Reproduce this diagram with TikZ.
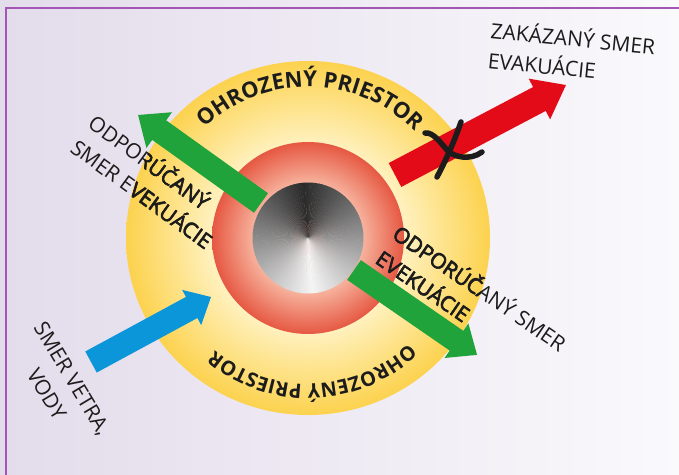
\documentclass[tikz,border=0pt]{standalone}
\usepackage{fontspec}
\setmainfont{Open Sans}
\newfontfamily\lblfont{Open Sans}
\newfontfamily\lblbold{Open Sans}[FakeBold=2.2]
\usetikzlibrary{decorations.text}
\definecolor{bgL}{HTML}{E3DCEB}
\definecolor{bgR}{HTML}{FAF9FC}
\definecolor{framec}{HTML}{A456B4}
\definecolor{yedge}{HTML}{FCD24E}
\definecolor{ycream}{HTML}{FFF2C2}
\definecolor{rout}{HTML}{E65842}
\definecolor{rin}{HTML}{F7B5A0}
\definecolor{agreen}{HTML}{21A33B}
\definecolor{ared}{HTML}{E30B17}
\definecolor{ablue}{HTML}{0A96D8}
\definecolor{ink}{HTML}{1C1C1C}
\pgfdeclareradialshading{yring}{\pgfpoint{0bp}{0bp}}{color(0bp)=(ycream); color(13bp)=(ycream); color(25bp)=(yedge); color(50bp)=(yedge)}
\pgfdeclareradialshading{rring}{\pgfpoint{0bp}{0bp}}{color(0bp)=(rin); color(14bp)=(rin); color(25bp)=(rout); color(50bp)=(rout)}
\newcommand\blockarrow[7]{%
  \begin{scope}[shift={#1}, rotate=#2]
    \fill[#7] (0,{-#4/2}) -- ({#3-#6},{-#4/2}) -- ({#3-#6},{-#5/2}) -- (#3,0)
      -- ({#3-#6},{#5/2}) -- ({#3-#6},{#4/2}) -- (0,{#4/2}) -- cycle;
  \end{scope}}
\tikzset{
  lbl/.style={inner sep=0pt, anchor=base west, align=left, text=ink},
  lblreg/.style={lbl, font=\lblfont\fontsize{21}{30}\selectfont},
  lblbf/.style={lbl, font=\lblbold\fontsize{21}{30}\selectfont},
  xstroke/.style={draw=ink, line width=5.5pt, line cap=round}
}
\begin{document}
\begin{tikzpicture}[x=1pt, y=1pt]
\useasboundingbox (0,0) rectangle (679,474);
\clip (0,0) rectangle (679,474);
% background
\shade[left color=bgL, right color=bgR] (0,0) rectangle (679,474);
\draw[framec, line width=1.5pt] (6,-10) -- (6,466) -- (700,466);
% rings
\coordinate (C) at (308,236);
\shade[shading=yring] (C) ellipse [x radius=182, y radius=177];
\shade[shading=rring] (C) circle [radius=96];
\foreach \a in {0,3,...,357}{
  \pgfmathsetmacro\g{17+79*abs(mod(\a+1.5-95+540,360)-180)/180}
  \fill[white!\g!black] (C) -- ++(\a:55.5) arc[start angle=\a, end angle=\a+3.4, radius=55.5] -- cycle;
}
% arrows
\coordinate (nwT) at (261,271);
\coordinate (seT) at (354,204);
\coordinate (rdT) at (395,299);
\coordinate (blT) at (91,112);
\blockarrow{(nwT)}{144.4}{151.2}{24}{44}{26}{agreen}
\blockarrow{(seT)}{-34.6}{149.5}{24}{42}{25}{agreen}
\blockarrow{(rdT)}{27.76}{193.2}{27}{46}{30}{ared}
\blockarrow{(blT)}{28.44}{136.5}{24}{40}{22}{ablue}
% cross mark
\draw[xstroke] (425,341) .. controls (433,342) and (440,332) .. (447,324) .. controls (453,317) and (470,313) .. (482,322);
\draw[xstroke] (461,352) .. controls (455,335) and (448,318) .. (437,297);
% ring texts
\path[decorate, decoration={text along path, text align=center,
  text={|\lblfont\bfseries\fontsize{22}{22}\selectfont\color{ink}|OHROZENÝ PRIESTOR}}]
  (C) ++(179:151) arc[start angle=179, end angle=-1, radius=151];
\path[decorate, decoration={text along path, text align=center,
  text={|\lblfont\bfseries\fontsize{20}{20}\selectfont\color{ink}|OHROZENÝ PRIESTOR}}]
  (C) ++(2:146) arc[start angle=2, end angle=-178, radius=146];
% labels
\node[lblreg, rotate=-36] (lblL) at (68.9,323.0) {ODPORÚČANÝ\\SMER EVEKUÁCIE};
\node[lblreg, rotate=-34.4] (lblR) at (374.0,211.7) {ODPORÚČANÝ SMER\\EVEKUÁCIE};
\node[lblreg, rotate=-5.6] (lblZ) at (487.1,405.7) {ZAKÁZANÝ SMER\\EVAKUÁCIE};
\node[lblreg, align=center, rotate=-59] (lblV) at (7.3,131.1) {SMER VETRA,\\VODY};
\begin{scope}
  \clip (C) ellipse [x radius=182, y radius=177];
  \node[lblbf, rotate=-36] (lblLb) at (68.9,323.0) {ODPORÚČANÝ\\SMER EVEKUÁCIE};
  \node[lblbf, rotate=-34.4] (lblRb) at (374.0,211.7) {ODPORÚČANÝ SMER\\EVEKUÁCIE};
\end{scope}
\end{tikzpicture}
\end{document}
